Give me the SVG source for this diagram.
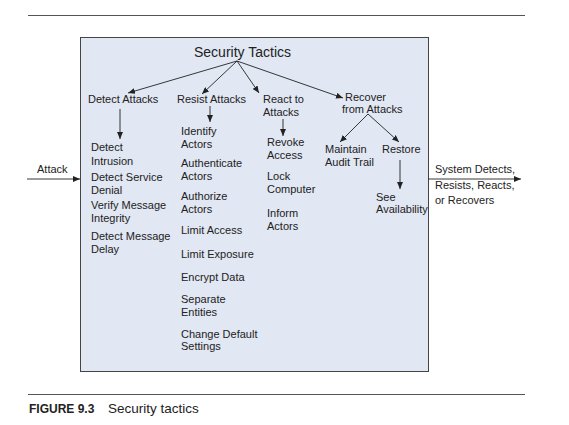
<svg xmlns="http://www.w3.org/2000/svg" width="569" height="425" viewBox="0 0 569 425">
<defs>
<marker id="ah" markerUnits="userSpaceOnUse" markerWidth="7" markerHeight="6" refX="7" refY="3" orient="auto">
<path d="M0,0 L7,3 L0,6 z" fill="#222"/>
</marker>
<style>
text{font-family:"Liberation Sans",Arial,sans-serif;font-size:11px;fill:#222}
.title{font-size:14px}
.cap{font-size:12px;font-weight:bold}
.capt{font-size:13.5px}
.c{stroke:#222;stroke-width:0.9;fill:none;marker-end:url(#ah)}
.rule{stroke:#555;stroke-width:1.2}
</style>
</defs>
<rect width="569" height="425" fill="#fff"/>
<line class="rule" x1="28" y1="15.5" x2="525" y2="15.5"/>
<line class="rule" x1="28" y1="394.5" x2="525" y2="394.5"/>
<g id="caption">
<text class="cap" x="29" y="413">FIGURE 9.3</text>
<text class="capt" x="108" y="413">Security tactics</text>
</g>
<g id="box">
<rect x="80.5" y="37.5" width="348" height="334" fill="#e1e7f3" stroke="#444" stroke-width="1"/>
<text class="title" x="242.5" y="57" text-anchor="middle">Security Tactics</text>
</g>
<g id="connectors">
<line class="c" x1="237" y1="61" x2="128" y2="93"/>
<line class="c" x1="237" y1="61" x2="202" y2="94"/>
<line class="c" x1="237" y1="61" x2="259" y2="93"/>
<line class="c" x1="237" y1="61" x2="343" y2="98"/>
<line class="c" x1="120" y1="109" x2="120" y2="139"/>
<line class="c" x1="210" y1="106" x2="210" y2="122"/>
<line class="c" x1="283" y1="119" x2="283" y2="136"/>
<line class="c" x1="368" y1="114" x2="340" y2="142"/>
<line class="c" x1="368" y1="114" x2="399" y2="142"/>
<line class="c" x1="400" y1="160" x2="400" y2="189"/>
<line class="c" x1="27" y1="179" x2="80" y2="179"/>
<line class="c" x1="428" y1="179" x2="521" y2="179"/>
</g>
<g id="attack"><text x="37" y="173">Attack</text></g>
<g id="outcome">
<text x="435" y="173">System Detects,</text>
<text x="435" y="189">Resists, Reacts,</text>
<text x="435" y="204">or Recovers</text>
</g>
<g id="detect">
<text x="88" y="103">Detect Attacks</text>
<text x="91" y="151">Detect</text>
<text x="91" y="165">Intrusion</text>
<text x="91" y="181">Detect Service</text>
<text x="91" y="194">Denial</text>
<text x="91" y="209">Verify Message</text>
<text x="91" y="222">Integrity</text>
<text x="91" y="240">Detect Message</text>
<text x="91" y="253">Delay</text>
</g>
<g id="resist">
<text x="177" y="103">Resist Attacks</text>
<text x="181" y="134.5">Identify</text>
<text x="181" y="147.5">Actors</text>
<text x="181" y="167">Authenticate</text>
<text x="181" y="179.5">Actors</text>
<text x="181" y="200">Authorize</text>
<text x="181" y="212.5">Actors</text>
<text x="181" y="234">Limit Access</text>
<text x="181" y="258">Limit Exposure</text>
<text x="181" y="281">Encrypt Data</text>
<text x="181" y="303">Separate</text>
<text x="181" y="316">Entities</text>
<text x="181" y="338">Change Default</text>
<text x="181" y="350">Settings</text>
</g>
<g id="react">
<text x="263" y="103">React to</text>
<text x="263" y="116">Attacks</text>
<text x="267" y="146">Revoke</text>
<text x="267" y="158.5">Access</text>
<text x="267" y="180">Lock</text>
<text x="267" y="193">Computer</text>
<text x="267" y="217">Inform</text>
<text x="267" y="230">Actors</text>
</g>
<g id="recover">
<text x="345" y="101">Recover</text>
<text x="342" y="113">from Attacks</text>
<text x="325" y="153">Maintain</text>
<text x="325" y="166">Audit Trail</text>
<text x="382" y="153">Restore</text>
<text x="376" y="201">See</text>
<text x="376" y="213">Availability</text>
</g>
</svg>
